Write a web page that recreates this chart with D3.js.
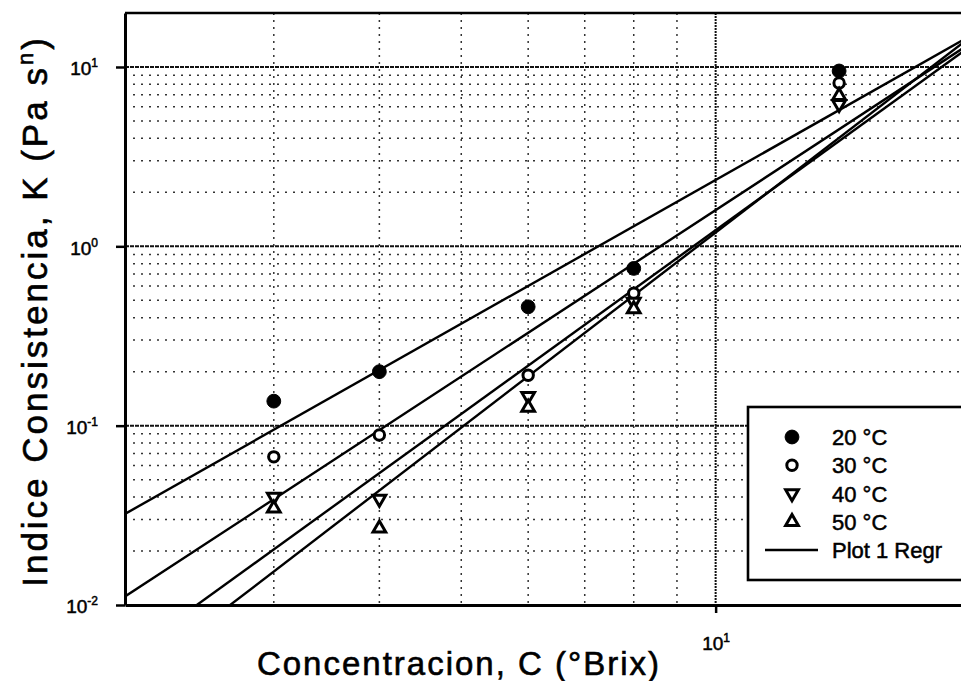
<!DOCTYPE html>
<html>
<head>
<meta charset="utf-8">
<script src="https://cdn.jsdelivr.net/npm/d3@7"></script>
<style>
  body { margin: 0; background: #fff; }
  svg { display: block; font-family: "Liberation Sans", Arial, sans-serif; }
</style>
</head>
<body>
<script>
// concentracion (°Brix) y K (Pa s^n)
const concentration = [3, 4, 6, 8, 14];
const k20 = [0.137, 0.200, 0.46, 0.753, 9.5];
const k30 = [0.067, 0.0887, 0.191, 0.547, 8.15];
const k40 = [0.040, 0.039, 0.146, 0.489, 6.2];
const k50 = [0.0346, 0.0268, 0.126, 0.447, 6.9];
const tempLabels = ['20 °C', '30 °C', '40 °C', '50 °C'];

// regresion log K = logA + b log C
const regrLogA = [-2.294, -2.881, -3.314, -3.538];
const regrSlope = [2.664, 3.083, 3.404, 3.615];

const xDomain = [2, 20];
const yDomain = [0.01, 20];
const yTickValues = [0.01, 0.1, 1, 10];
const yTickExp = ['-2', '-1', '0', '1'];
const xTickValues = [10];
const xTickExp = ['1'];

const width = 961, height = 681;
const mLeft = 125, mRight = 970, mTop = 13, mBottom = 605;
const font = '"Liberation Sans", Arial, sans-serif';

const svg = d3.select('body').append('svg')
    .attr('width', width)
    .attr('height', height);

const x = d3.scaleLog().domain(xDomain).range([mLeft, mRight]);
const y = d3.scaleLog().domain(yDomain).range([mBottom, mTop]);

svg.append('clipPath').attr('id', 'plot')
    .append('rect')
    .attr('x', mLeft).attr('y', mTop)
    .attr('width', mRight - mLeft).attr('height', mBottom - mTop);

// grilla
const grid = svg.append('g').attr('clip-path', 'url(#plot)');
const isMajor = v => Math.abs(Math.log10(v) - Math.round(Math.log10(v))) < 1e-9;

grid.selectAll('.hgrid')
    .data(y.ticks().filter(v => v > yDomain[0] && v < yDomain[1]))
    .enter().append('line')
    .attr('x1', mLeft).attr('x2', mRight)
    .attr('y1', d => y(d)).attr('y2', d => y(d))
    .attr('stroke', d => isMajor(d) ? '#111' : '#333')
    .attr('stroke-width', d => isMajor(d) ? 2 : 1.5)
    .attr('stroke-dasharray', d => isMajor(d) ? '4,1' : '2,6');

grid.selectAll('.vgrid')
    .data(x.ticks().filter(v => v > xDomain[0] && v < xDomain[1]))
    .enter().append('line')
    .attr('y1', mTop).attr('y2', mBottom)
    .attr('x1', d => x(d)).attr('x2', d => x(d))
    .attr('stroke', d => isMajor(d) ? '#111' : '#333')
    .attr('stroke-width', d => isMajor(d) ? 2 : 1.5)
    .attr('stroke-dasharray', d => isMajor(d) ? '2,1' : '2,5');

// rectas de regresion
const line = d3.line().x(d => x(d[0])).y(d => y(d[1]));
grid.selectAll('.regr')
    .data(regrLogA.map((a, i) => xDomain.map(c => [c, Math.pow(10, a + regrSlope[i] * Math.log10(c))])))
    .enter().append('path')
    .attr('d', line)
    .attr('fill', 'none')
    .attr('stroke', '#000')
    .attr('stroke-width', 2.4);

// marcadores
const symCircle = d3.symbol().type(d3.symbolCircle);
const symTri = d3.symbol().type(d3.symbolTriangle);
const markers = [
  { path: symCircle.size(150)(), fill: '#000', stroke: '#000', rot: 0 },
  { path: symCircle.size(85)(), fill: '#fff', stroke: '#000', rot: 0 },
  { path: symTri.size(70)(), fill: '#fff', stroke: '#000', rot: 180 },
  { path: symTri.size(70)(), fill: '#fff', stroke: '#000', rot: 0 }
];
const series = [k20, k30, k40, k50];

const pts = svg.append('g');
series.forEach((vals, i) => {
  const m = markers[i];
  pts.selectAll('.s' + i)
      .data(vals.map((v, j) => [concentration[j], v]))
      .enter().append('path')
      .attr('d', m.path)
      .attr('transform', d => `translate(${x(d[0])},${y(d[1])}) rotate(${m.rot})`)
      .attr('fill', m.fill)
      .attr('stroke', m.stroke)
      .attr('stroke-width', i === 0 ? 1 : 3);
});

// borde superior
svg.append('line')
    .attr('x1', mLeft).attr('x2', width)
    .attr('y1', mTop).attr('y2', mTop)
    .attr('stroke', '#000').attr('stroke-width', 2.6);

// ejes
const yAxis = svg.append('g')
    .attr('transform', `translate(${mLeft},0)`)
    .call(d3.axisLeft(y).tickValues(yTickValues).tickSize(9).tickSizeOuter(0).tickPadding(18));
yAxis.attr('font-family', font);
yAxis.select('.domain').attr('stroke-width', 3);
yAxis.selectAll('.tick line').attr('stroke-width', 2.5);
yAxis.selectAll('.tick text')
    .attr('font-size', 19)
    .attr('dy', '0.42em')
    .attr('stroke', '#000').attr('stroke-width', 0.5)
    .text(null)
    .each(function (d, i) {
      const t = d3.select(this);
      t.append('tspan').text('10');
      t.append('tspan').attr('font-size', 12).attr('dy', -8).text(yTickExp[i]);
    });

const xAxis = svg.append('g')
    .attr('transform', `translate(0,${mBottom})`)
    .call(d3.axisBottom(x).tickValues(xTickValues).tickSize(8).tickSizeOuter(0).tickPadding(24));
xAxis.attr('font-family', font);
xAxis.select('.domain').attr('stroke-width', 3);
xAxis.selectAll('.tick line').attr('stroke-width', 2.5);
xAxis.selectAll('.tick text')
    .attr('font-size', 19)
    .attr('stroke', '#000').attr('stroke-width', 0.5)
    .text(null)
    .each(function (d, i) {
      const t = d3.select(this);
      t.append('tspan').text('10');
      t.append('tspan').attr('font-size', 12).attr('dy', -8).text(xTickExp[i]);
    });

// titulos
svg.append('text')
    .attr('x', 459).attr('y', 675)
    .attr('text-anchor', 'middle')
    .attr('font-size', 33)
    .attr('letter-spacing', 2)
    .attr('stroke', '#000').attr('stroke-width', 0.6)
    .text('Concentracion, C (°Brix)');

const yTitle = svg.append('text')
    .attr('transform', 'translate(47,311) rotate(-90)')
    .attr('text-anchor', 'middle')
    .attr('font-size', 35)
    .attr('letter-spacing', 3)
    .attr('stroke', '#000').attr('stroke-width', 0.6);
yTitle.append('tspan').text('Indice Consistencia, K (Pa s');
yTitle.append('tspan').attr('font-size', 22).attr('dy', -14).text('n');
yTitle.append('tspan').attr('dy', 14).text(')');

// leyenda
const legend = svg.append('g');
legend.append('rect')
    .attr('x', 748).attr('y', 407)
    .attr('width', 240).attr('height', 173)
    .attr('fill', '#fff')
    .attr('stroke', '#000')
    .attr('stroke-width', 2.6);

const rowY = d3.scaleLinear().domain([0, 4]).range([437, 550]);
tempLabels.forEach((lab, i) => {
  const m = markers[i];
  legend.append('path')
      .attr('d', m.path)
      .attr('transform', `translate(792,${rowY(i)}) rotate(${m.rot})`)
      .attr('fill', m.fill)
      .attr('stroke', m.stroke)
      .attr('stroke-width', i === 0 ? 1 : 3);
  legend.append('text')
      .attr('x', 832).attr('y', rowY(i) + 8)
      .attr('font-size', 22)
      .attr('stroke', '#000').attr('stroke-width', 0.5)
      .text(lab);
});
legend.append('line')
    .attr('x1', 765).attr('x2', 818)
    .attr('y1', rowY(4)).attr('y2', rowY(4))
    .attr('stroke', '#000').attr('stroke-width', 2.4);
legend.append('text')
    .attr('x', 832).attr('y', rowY(4) + 8)
    .attr('font-size', 22)
    .attr('stroke', '#000').attr('stroke-width', 0.5)
    .text('Plot 1 Regr');
</script>
</body>
</html>
